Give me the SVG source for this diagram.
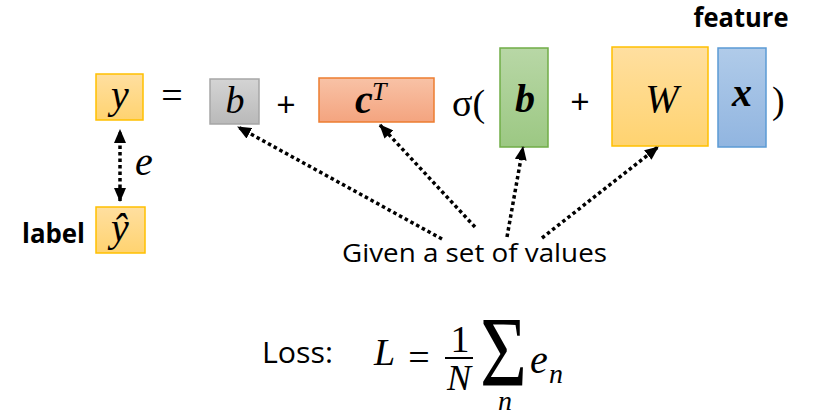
<svg xmlns="http://www.w3.org/2000/svg" width="838" height="415" viewBox="0 0 838 415">
<defs>
<linearGradient id="gGold" x1="0" y1="0" x2="0" y2="1"><stop offset="0" stop-color="#FFDFA0"/><stop offset="1" stop-color="#FFD370"/></linearGradient>
<linearGradient id="gGray" x1="0" y1="0" x2="0" y2="1"><stop offset="0" stop-color="#D4D4D4"/><stop offset="1" stop-color="#B9B9B9"/></linearGradient>
<linearGradient id="gOrange" x1="0" y1="0" x2="0" y2="1"><stop offset="0" stop-color="#F8C2A6"/><stop offset="1" stop-color="#F4A47F"/></linearGradient>
<linearGradient id="gGreen" x1="0" y1="0" x2="0" y2="1"><stop offset="0" stop-color="#B8D7A6"/><stop offset="1" stop-color="#9CC883"/></linearGradient>
<linearGradient id="gBlue" x1="0" y1="0" x2="0" y2="1"><stop offset="0" stop-color="#B0CBE9"/><stop offset="1" stop-color="#91B5E0"/></linearGradient>
<marker id="ah" markerUnits="userSpaceOnUse" markerWidth="14" markerHeight="12" viewBox="0 0 14 12" refX="13" refY="6" orient="auto-start-reverse">
<path d="M0,0 L14,6 L0,12 Z" fill="#000"/>
</marker>
</defs>
<style>
.math{font-family:"Liberation Serif","DejaVu Serif",serif;font-style:italic;fill:#000}
.mb{font-family:"Liberation Serif","DejaVu Serif",serif;font-style:italic;font-weight:bold;fill:#000}
.up{font-family:"Liberation Serif","DejaVu Serif",serif;fill:#000}
.sans{font-family:"Open Sans","Liberation Sans",sans-serif;fill:#000}
.bold{font-family:"Open Sans","Liberation Sans",sans-serif;font-weight:bold;fill:#000}
.dot{fill:none;stroke:#000;stroke-width:3.5;stroke-dasharray:3.5 3;marker-end:url(#ah)}
.box{stroke-width:1.5}
</style>
<g id="node-y">
<rect class="box" x="96" y="74" width="47" height="46" fill="url(#gGold)" stroke="#FFC000"/>
<text class="math" x="120" y="108" font-size="40" text-anchor="middle">y</text>
</g>
<g id="node-yhat">
<rect class="box" x="96" y="207" width="49" height="46" fill="url(#gGold)" stroke="#FFC000"/>
<text class="math" x="120" y="241" font-size="40" text-anchor="middle">ŷ</text>
<text class="bold" x="22" y="243" font-size="26" textLength="63" lengthAdjust="spacingAndGlyphs">label</text>
</g>
<g id="eq1"><text class="up" x="172" y="108" font-size="38" text-anchor="middle">=</text></g>
<g id="node-b-gray">
<rect class="box" x="210" y="79" width="49" height="45" fill="url(#gGray)" stroke="#A6A6A6"/>
<text class="math" x="235" y="113" font-size="38" text-anchor="middle">b</text>
</g>
<g id="plus1"><text class="sans" x="286" y="117" font-size="34" text-anchor="middle">+</text></g>
<g id="node-cT">
<rect class="box" x="319" y="78" width="115" height="44" fill="url(#gOrange)" stroke="#ED7D31"/>
<text class="mb" x="355" y="113" font-size="40">c</text>
<text class="math" x="372" y="100" font-size="26">T</text>
</g>
<g id="sigma"><text class="up" x="452" y="116" font-size="38">σ(</text></g>
<g id="node-b-green">
<rect class="box" x="500" y="48" width="48" height="99" fill="url(#gGreen)" stroke="#70AD47"/>
<text class="mb" x="525" y="112" font-size="40" text-anchor="middle">b</text>
</g>
<g id="plus2"><text class="sans" x="580" y="114" font-size="34" text-anchor="middle">+</text></g>
<g id="node-W">
<rect class="box" x="612" y="47" width="96" height="99" fill="url(#gGold)" stroke="#FFC000"/>
<text class="math" x="662" y="112" font-size="40" text-anchor="middle">W</text>
</g>
<g id="node-x">
<rect class="box" x="718" y="48" width="48" height="99" fill="url(#gBlue)" stroke="#5B9BD5"/>
<text class="mb" x="742" y="106" font-size="40" text-anchor="middle">x</text>
<text class="bold" x="741" y="27" font-size="26" text-anchor="middle" textLength="95" lengthAdjust="spacingAndGlyphs">feature</text>
</g>
<g id="paren"><text class="up" x="772" y="113" font-size="38">)</text></g>
<g id="e-label"><text class="math" x="135" y="175" font-size="40">e</text></g>
<g id="node-given">
<text class="sans" x="474.5" y="262" font-size="26" text-anchor="middle" textLength="265" lengthAdjust="spacingAndGlyphs">Given a set of values</text>
</g>
<g id="connectors">
<path class="dot" d="M120,201 L120,130" style="marker-start:url(#ah)"/>
<path class="dot" d="M442,239 L238,127"/>
<path class="dot" d="M475,227 L380,125"/>
<path class="dot" d="M507,237 L523,147"/>
<path class="dot" d="M542,238 L658,147"/>
</g>
<g id="loss">
<text class="sans" x="262" y="363" font-size="30" textLength="71" lengthAdjust="spacingAndGlyphs">Loss:</text>
<text class="math" x="374" y="365" font-size="38">L</text>
<text class="up" x="419" y="370" font-size="38" text-anchor="middle">=</text>
<text class="up" x="460" y="352" font-size="38" text-anchor="middle">1</text>
<line x1="445" y1="358" x2="473" y2="358" stroke="#000" stroke-width="2"/>
<text class="math" x="459" y="390" font-size="36" text-anchor="middle">N</text>
<text class="up" x="503.5" y="385" font-size="100" text-anchor="middle" textLength="47" lengthAdjust="spacingAndGlyphs">Σ</text>
<text class="math" x="505" y="410" font-size="28" text-anchor="middle">n</text>
<text class="math" x="530" y="373" font-size="40">e</text>
<text class="math" x="549" y="383" font-size="28">n</text>
</g>
</svg>
